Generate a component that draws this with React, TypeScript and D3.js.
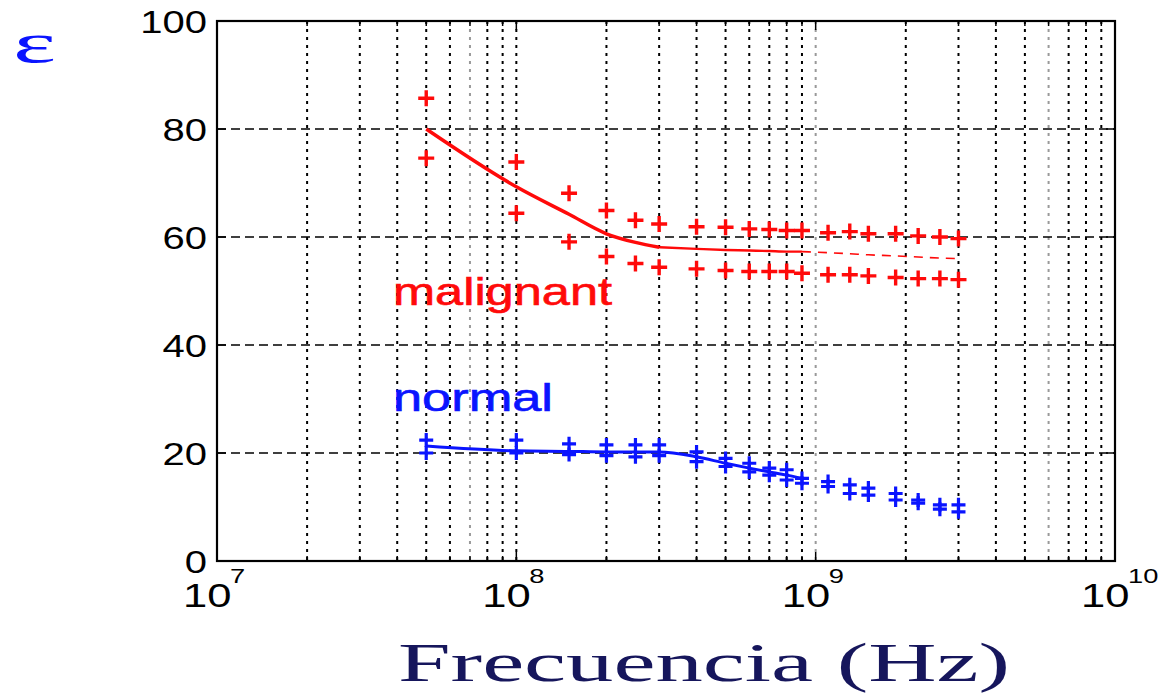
import * as d3 from 'd3';

// frequencies (Hz) shared by both tissue types
const freqs = [5e7, 1e8, 1.5e8, 2e8, 2.5e8, 3e8, 4e8, 5e8, 6e8, 7e8, 8e8, 9e8, 1.1e9, 1.3e9, 1.5e9, 1.85e9, 2.2e9, 2.6e9, 3e9];

const malignantUpper = [85.7, 73.9, 68.1, 64.9, 63.1, 62.4, 61.9, 61.8, 61.5, 61.4, 61.2, 61.2, 60.8, 61.0, 60.6, 60.6, 60.2, 60.0, 59.7];
const malignantLower = [74.6, 64.4, 59.1, 56.4, 55.1, 54.4, 54.1, 53.8, 53.6, 53.6, 53.6, 53.3, 53.0, 53.0, 52.8, 52.5, 52.3, 52.3, 52.1];
const malignantFit = [80, 69.3, 64.2, 60.6, 59.0, 58.1, 57.8, 57.6, 57.5, 57.4, 57.3, 57.3, 57.1, 56.9, 56.7, 56.5, 56.3, 56.1, 56.0];

const normalUpper = [22.4, 22.4, 21.7, 21.5, 21.5, 21.5, 20.2, 19.0, 18.1, 17.2, 16.9, 15.3, 14.7, 14.1, 13.5, 12.5, 11.3, 10.4, 10.4];
const normalLower = [20.0, 20.0, 19.7, 19.5, 19.3, 19.5, 18.4, 17.5, 16.5, 15.9, 15.0, 14.4, 13.8, 12.5, 12.2, 11.3, 10.7, 9.6, 9.1];
const normalFit = [21.3, 20.4, 20.3, 20.2, 20.2, 20.2, 19.3, 18.1, 17.2, 16.5, 15.9, 15.3];

const yTicks = [0, 20, 40, 60, 80, 100];
const xDecades = [1e7, 1e8, 1e9, 1e10];
const xExponents = ['7', '8', '9', '10'];
const fadedGrid = [7e7, 1e9, 6e9];

const RED = '#ff0a0a';
const BLUE = '#0a14ff';

const x = d3.scaleLog().domain([1e7, 1e10]).range([217, 1115]);
const y = d3.scaleLinear().domain([0, 100]).range([561, 21]);

const line = d3.line<[number, number]>().x(d => x(d[0])).y(d => y(d[1])).curve(d3.curveMonotoneX);
const pairs = (vals: number[]) => vals.map((v, i) => [freqs[i], v] as [number, number]);

const Plus = ({ cx, cy, color, h = 7, w = 3 }: any) => (
  <path d={`M${cx - h},${cy}H${cx + h}M${cx},${cy - h}V${cy + h}`} stroke={color} strokeWidth={w} fill="none" />
);

const App = () => {
  const gridX = x.ticks().filter(t => t > 1e7 && t < 1e10);
  const allX = x.ticks();
  const isDecade = (t: number) => Math.abs(Math.log10(t) - Math.round(Math.log10(t))) < 1e-6;
  const mFit = pairs(malignantFit);
  const nFit = pairs(normalFit);
  const sans = "'Liberation Sans', Arial, sans-serif";
  const serif = "'Liberation Serif', 'Times New Roman', serif";

  return (
    <svg width={1163} height={693} style={{ position: 'absolute', left: 0, top: 0, background: '#fff' }}>
      {/* grid */}
      {gridX.map((t, i) => (
        <line key={'gx' + i} x1={x(t)} x2={x(t)} y1={y(100)} y2={y(0)}
          stroke={fadedGrid.some(f => Math.abs(f - t) / f < 1e-6) ? '#999' : '#000'}
          strokeWidth={2} strokeDasharray="3,5" />
      ))}
      {yTicks.filter(v => v > 0 && v < 100).map(v => (
        <line key={'gy' + v} x1={x(1e7)} x2={x(1e10)} y1={y(v)} y2={y(v)}
          stroke="#000" strokeWidth={1.6} strokeDasharray="9,5" />
      ))}

      {/* ticks */}
      {allX.map((t, i) => {
        const len = isDecade(t) ? 9 : 5;
        return (
          <g key={'tx' + i} stroke="#000" strokeWidth={1.5}>
            <line x1={x(t)} x2={x(t)} y1={y(0)} y2={y(0) - len} />
            <line x1={x(t)} x2={x(t)} y1={y(100)} y2={y(100) + len} />
          </g>
        );
      })}
      {yTicks.map(v => (
        <g key={'ty' + v} stroke="#000" strokeWidth={1.5}>
          <line x1={x(1e7)} x2={x(1e7) + 9} y1={y(v)} y2={y(v)} />
          <line x1={x(1e10)} x2={x(1e10) - 9} y1={y(v)} y2={y(v)} />
        </g>
      ))}

      {/* frame */}
      <rect x={x(1e7)} y={y(100)} width={x(1e10) - x(1e7)} height={y(0) - y(100)} fill="none" stroke="#000" strokeWidth={2.2} />

      {/* malignant */}
      <path d={line(mFit.slice(0, 6)) || ''} stroke={RED} strokeWidth={3.5} fill="none" />
      <path d={line(mFit.slice(5, 12)) || ''} stroke={RED} strokeWidth={2.4} fill="none" />
      <path d={line(mFit.slice(11)) || ''} stroke={RED} strokeWidth={1.6} fill="none" strokeDasharray="9,7" />
      {freqs.map((f, i) => <Plus key={'mu' + i} cx={x(f)} cy={y(malignantUpper[i])} color={RED} h={8} w={3.4} />)}
      {freqs.map((f, i) => <Plus key={'ml' + i} cx={x(f)} cy={y(malignantLower[i])} color={RED} h={8} w={3.4} />)}

      {/* normal */}
      <path d={line(nFit) || ''} stroke={BLUE} strokeWidth={3} fill="none" />
      {freqs.map((f, i) => <Plus key={'nu' + i} cx={x(f)} cy={y(normalUpper[i])} color={BLUE} h={7} w={3.2} />)}
      {freqs.map((f, i) => <Plus key={'nl' + i} cx={x(f)} cy={y(normalLower[i])} color={BLUE} h={7} w={3.2} />)}

      {/* series labels */}
      <text x={393} y={305} fontFamily={sans} fontSize={38} fill={RED} stroke={RED} strokeWidth={0.6} textLength={219} lengthAdjust="spacingAndGlyphs">malignant</text>
      <text x={393} y={411} fontFamily={sans} fontSize={38} fill={BLUE} stroke={BLUE} strokeWidth={0.6} textLength={160} lengthAdjust="spacingAndGlyphs">normal</text>

      {/* y tick labels */}
      {yTicks.map(v => (
        <g key={'ly' + v} transform={`translate(207,${y(v) + 11.5}) scale(1.25,1)`}>
          <text textAnchor="end" fontFamily={sans} fontSize={32} fill="#000">{v}</text>
        </g>
      ))}

      {/* x tick labels */}
      {xDecades.map((d, i) => (
        <g key={'lx' + i}>
          <g transform={`translate(${x(d) - 34},607) scale(1.32,1)`}>
            <text fontFamily={sans} fontSize={33} fill="#000">10</text>
          </g>
          <g transform={`translate(${x(d) + 13},583) scale(1.3,1)`}>
            <text fontFamily={sans} fontSize={21} fill="#000">{xExponents[i]}</text>
          </g>
        </g>
      ))}

      {/* axis labels */}
      <text x={13} y={62} fontFamily={serif} fontSize={58} fill={BLUE} textLength={43} lengthAdjust="spacingAndGlyphs">ε</text>
      <text x={398} y={681} fontFamily={serif} fontSize={54} fill="#16165c" textLength={612} lengthAdjust="spacingAndGlyphs">Frecuencia (Hz)</text>
    </svg>
  );
};

export default App;
